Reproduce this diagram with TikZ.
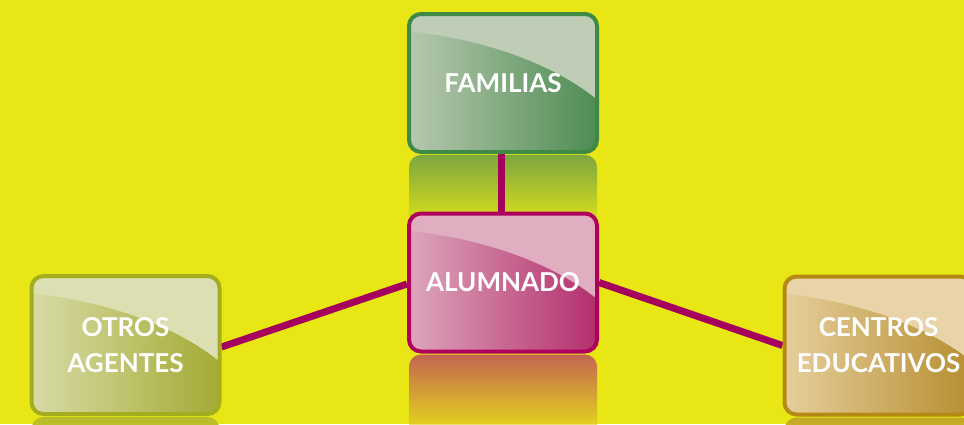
\documentclass[tikz,border=0pt]{standalone}
\usepackage{fontspec}
\setmainfont{Lato}
\pgfdeclarelayer{back}
\pgfdeclarelayer{mid}
\pgfsetlayers{back,mid,main}
\definecolor{bgy}{HTML}{E8E614}
\definecolor{conn}{HTML}{A6005E}
\definecolor{famB}{HTML}{3E8A45}\definecolor{famL}{HTML}{B7C8B0}\definecolor{famD}{HTML}{4E8C52}\definecolor{famH}{HTML}{BFCCB6}
\definecolor{aluB}{HTML}{B0005E}\definecolor{aluL}{HTML}{DDA6BC}\definecolor{aluD}{HTML}{B32E6C}\definecolor{aluH}{HTML}{E0AEC0}
\definecolor{otrB}{HTML}{A3AD1F}\definecolor{otrL}{HTML}{D8DBA6}\definecolor{otrD}{HTML}{A4AA34}\definecolor{otrH}{HTML}{DCDFB2}
\definecolor{cenB}{HTML}{B58A14}\definecolor{cenL}{HTML}{E6CE9C}\definecolor{cenD}{HTML}{B68E30}\definecolor{cenH}{HTML}{E8D4A8}
\tikzset{
  gbox/.style={draw, line width=4pt, rounded corners=12pt, minimum width=188pt, minimum height=138pt,
    text=white, align=center, font=\bfseries\fontsize{26}{36}\selectfont, inner sep=0pt},
  link/.style={draw=conn, line width=7pt}
}
\newcommand\gbox[9]{%
  \begin{pgfonlayer}{back}
    \shade[top color=#6!70!bgy, bottom color=#6!12!bgy]
      (#2-94,#3+#9) [rounded corners=12pt] -- (#2-94,#3+72) -- (#2+94,#3+72) [sharp corners] -- (#2+94,#3+#9) -- cycle;
  \end{pgfonlayer}
  \begin{scope}
    \clip[rounded corners=12pt] (#2-95,#3-70) rectangle (#2+95,#3+70);
    \shade[left color=#5, right color=#6] (#2-95,#3-70) rectangle (#2+95,#3+70);
    \fill[#7] (#2-96,#3-71) -- (#2-96,#3-52) .. controls (#2-20,#3-44) and (#2+50,#3-20) .. (#2+96,#3+18) -- (#2+96,#3-71) -- cycle;
  \end{scope}
  \node[gbox, draw=#4] (#1) at (#2,#3) {#8};
}
\begin{document}
\begin{tikzpicture}[x=1pt,y=-1pt]
\begin{pgfonlayer}{back}
\fill[bgy] (0,0) rectangle (964,424);
\end{pgfonlayer}
\useasboundingbox (0,0) rectangle (964,424);
\gbox{fam}{503}{83}{famB}{famL}{famD}{famH}{FAMILIAS}{135}
\gbox{alu}{503}{282.5}{aluB}{aluL}{aluD}{aluH}{ALUMNADO}{142}
\gbox{otr}{125.5}{345}{otrB}{otrL}{otrD}{otrH}{OTROS\\AGENTES}{142}
\gbox{cen}{878.5}{345.5}{cenB}{cenL}{cenD}{cenH}{CENTROS\\EDUCATIVOS}{142}
\begin{pgfonlayer}{mid}
\draw[link] ([xshift=-2pt]fam.south) -- ([xshift=-2pt]alu.north);
\draw[link] ([yshift=-1.5pt]alu.west) -- ([yshift=-2pt]otr.east);
\draw[link] (alu.east) -- (cen.west);
\end{pgfonlayer}
\end{tikzpicture}
\end{document}
